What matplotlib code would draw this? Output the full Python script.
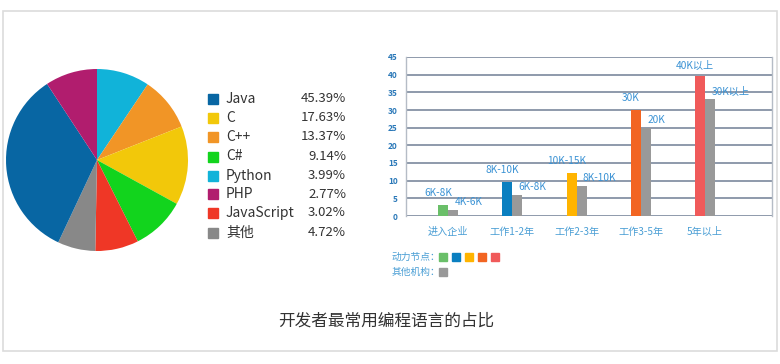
import matplotlib.pyplot as plt
from matplotlib.patches import Rectangle

plt.rcParams['font.family'] = ['Noto Sans CJK SC', 'DejaVu Sans']

# pie: slice shares as drawn (clockwise from 12 o'clock)
pie_names = ["Python", "C++", "C", "C#", "JavaScript", "其他", "Java", "PHP"]
pie_shares = [9.4, 9.6, 14.0, 9.6, 7.7, 6.7, 33.75, 9.25]
pie_colors = ["#11b3d9", "#f19526", "#f2c80a", "#12d41d", "#ef3726", "#888888", "#0866a3", "#b11d6e"]

# legend rows
legend_names = ["Java", "C", "C++", "C#", "Python", "PHP", "JavaScript", "其他"]
legend_pcts = ["45.39%", "17.63%", "13.37%", "9.14%", "3.99%", "2.77%", "3.02%", "4.72%"]
legend_colors = ["#0866a3", "#f2c80a", "#f19526", "#12d41d", "#11b3d9", "#b11d6e", "#ef3726", "#888888"]

# bars
stages = ["进入企业", "工作1-2年", "工作2-3年", "工作3-5年", "5年以上"]
power_vals = [3.2, 9.7, 12.3, 30.1, 39.5]
other_vals = [1.7, 6.0, 8.6, 25.0, 33.2]
power_labels = ["6K-8K", "8K-10K", "10K-15K", "30K", "40K以上"]
other_labels = ["4K-6K", "6K-8K", "8K-10K", "20K", "30K以上"]
power_colors = ["#6abf69", "#0a7fc0", "#ffb400", "#f26522", "#f05a5a"]
other_color = "#999999"

W, H = 780, 364
fig = plt.figure(figsize=(W / 100, H / 100), dpi=100)
fig.patch.set_facecolor("white")


def fx(px):
    return px / W


def fy(py):
    return 1 - py / H


# outer light frame
fig.patches.append(Rectangle((fx(2.5), fy(350.5)), fx(777) - fx(2.5), fy(10.5) - fy(350.5),
                             transform=fig.transFigure, fill=False,
                             edgecolor="#dcdcdc", linewidth=1.2))

# pie
cx, cy, r = 97, 160, 91
pax = fig.add_axes([fx(cx - r), fy(cy + r), fx(2 * r), (2 * r) / H])
pax.pie(pie_shares, colors=pie_colors, startangle=90, counterclock=False,
        wedgeprops=dict(linewidth=0))
pax.set_xlim(-1, 1)
pax.set_ylim(-1, 1)
pax.set_aspect("equal")
pax.axis("off")

# pie legend
row_y = [99, 118, 137, 156.5, 175.5, 194, 213, 233]
for yy, name, pct, col in zip(row_y, legend_names, legend_pcts, legend_colors):
    fig.patches.append(Rectangle((fx(208), fy(yy + 5)), fx(10), 10 / H,
                                 transform=fig.transFigure, color=col))
    fig.text(fx(226), fy(yy), name, fontsize=10, color="#333333",
             va="center", ha="left")
    fig.text(fx(346), fy(yy), pct, fontsize=9.5, color="#333333",
             va="center", ha="right")

# bar chart
ax = fig.add_axes([fx(406), fy(216), fx(772) - fx(406), (216 - 57) / H])
x = list(range(len(stages)))
bw = 0.155
xp = [i - bw / 2 for i in x]
xo = [i + bw / 2 for i in x]
ax.bar(xp, power_vals, width=bw, color=power_colors, zorder=3)
ax.bar(xo, other_vals, width=bw, color=other_color, zorder=3)

label_blue = "#3a92d4"
for i in x:
    ax.text(xp[i] - 0.08, power_vals[i] + 1.8, power_labels[i], fontsize=7.3,
            color=label_blue, ha="center", va="bottom", zorder=4)
    ax.text(xo[i] + 0.02, other_vals[i] + 0.8, other_labels[i], fontsize=7.3,
            color=label_blue, ha="left", va="bottom", zorder=4)

ax.set_xlim(-0.654, 5.04)
ax.set_ylim(0, 45)
ax.set_yticks(range(0, 46, 5))
ax.set_xticks(x)
ax.set_xticklabels(stages, fontsize=7.3, color="#4b9fd5")
ax.tick_params(axis="x", length=0, pad=8)
ax.tick_params(axis="y", length=0, pad=6, labelsize=6, labelcolor="#2a78b8")
for lab in ax.get_yticklabels():
    lab.set_fontweight("bold")
ax.grid(axis="y", color="#8e9aab", linewidth=1.4, zorder=1)
for side in ["top", "bottom"]:
    ax.spines[side].set_visible(False)
ax.spines["left"].set_color("#b5bcc6")
ax.spines["right"].set_color("#b5bcc6")
ax.spines["left"].set_linewidth(1.0)
ax.spines["right"].set_linewidth(1.0)

# bar legend
fig.text(fx(392), fy(257), "动力节点：", fontsize=7, color="#4b9fd5", va="center")
sq_x = [439.3, 452, 465, 478, 491]
for sx, col in zip(sq_x, power_colors):
    fig.patches.append(Rectangle((fx(sx), fy(261)), fx(7.7), 7.7 / H,
                                 transform=fig.transFigure, color=col))
fig.text(fx(392), fy(272), "其他机构：", fontsize=7, color="#4b9fd5", va="center")
fig.patches.append(Rectangle((fx(439.3), fy(275.5)), fx(7.7), 7.7 / H,
                             transform=fig.transFigure, color=other_color))

# title
fig.text(fx(386), fy(321), "开发者最常用编程语言的占比", fontsize=12,
         color="#333333", ha="center", va="center")

fig.savefig("out.png", dpi=100)
